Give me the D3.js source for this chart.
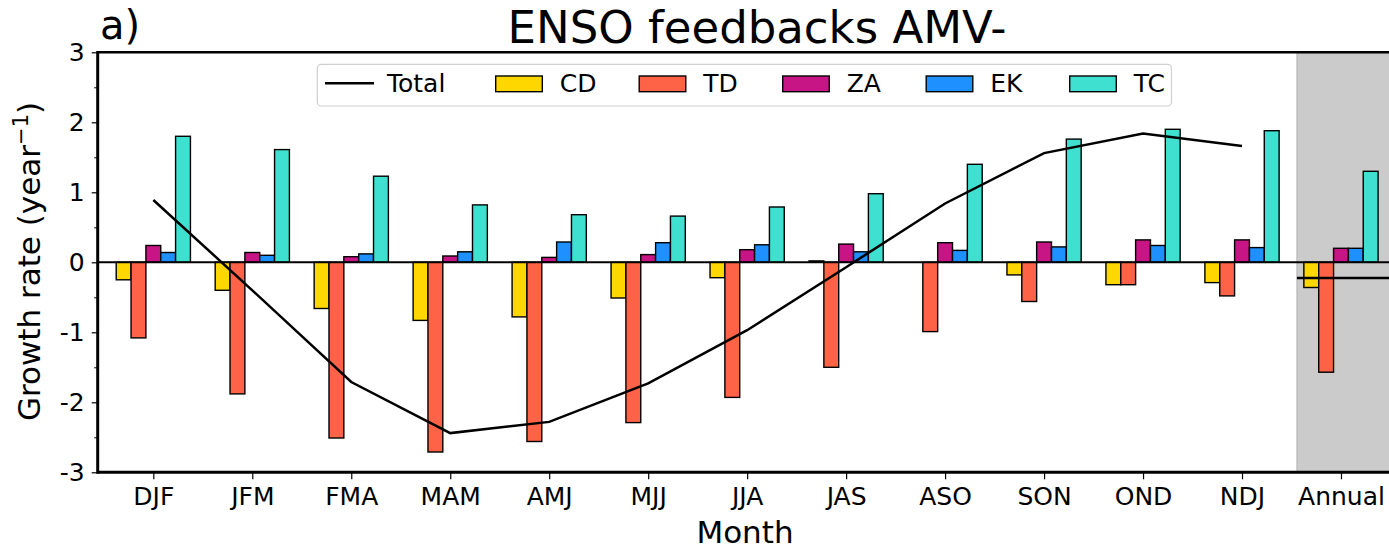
<!DOCTYPE html>
<html>
<head>
	<meta charset="utf-8">
	<style>
		body { margin: 0; background: #fff; }
		text { font-family: "DejaVu Sans", sans-serif; fill: #000; }
	</style>
</head>
<body>
	<script src="https://d3js.org/d3.v7.min.js"></script>

	<script>
		// data
		const months = ['DJF', 'JFM', 'FMA', 'MAM', 'AMJ', 'MJJ', 'JJA', 'JAS', 'ASO', 'SON', 'OND', 'NDJ', 'Annual'];

		const total = [0.89, -0.40, -1.71, -2.44, -2.28, -1.73, -0.97, -0.07, 0.84, 1.56, 1.84, 1.66];
		const totalAnnual = -0.225;

		const CD = [-0.25, -0.40, -0.66, -0.83, -0.78, -0.51, -0.22, 0.02, 0.00, -0.18, -0.32, -0.29, -0.36];
		const TD = [-1.08, -1.88, -2.51, -2.71, -2.56, -2.29, -1.93, -1.50, -0.99, -0.56, -0.32, -0.48, -1.57];
		const ZA = [0.24, 0.14, 0.08, 0.09, 0.07, 0.11, 0.18, 0.26, 0.28, 0.29, 0.32, 0.32, 0.20];
		const EK = [0.14, 0.10, 0.12, 0.15, 0.29, 0.28, 0.25, 0.15, 0.17, 0.22, 0.24, 0.21, 0.20];
		const TC = [1.80, 1.61, 1.23, 0.82, 0.68, 0.66, 0.79, 0.98, 1.40, 1.76, 1.90, 1.88, 1.30];

		const yTicks = [-3, -2, -1, 0, 1, 2, 3];
		const yMinorTicks = [-2.5, -1.5, -0.5, 0.5, 1.5, 2.5];

		const series = [
			{ name: 'CD', values: CD, color: '#FFD700' },
			{ name: 'TD', values: TD, color: '#FF6347' },
			{ name: 'ZA', values: ZA, color: '#C71585' },
			{ name: 'EK', values: EK, color: '#1E90FF' },
			{ name: 'TC', values: TC, color: '#40E0D0' },
		];

		const W = 1389, H = 552;
		const barW = 0.15;
		const annualStart = 11.555;

		const svg = d3.select('body')
			.append('svg')
			.attr('width', W)
			.attr('height', H);

		const x = d3.scaleLinear()
			.domain([-0.562, 12.562])
			.range([97.7, 1396.6]);

		const y = d3.scaleLinear()
			.domain([-3, 3])
			.range([472.3, 52.3]);

		svg.append('clipPath').attr('id', 'plot')
			.append('rect')
			.attr('x', x.range()[0]).attr('y', y(3))
			.attr('width', x.range()[1] - x.range()[0])
			.attr('height', y(-3) - y(3));

		const plot = svg.append('g').attr('clip-path', 'url(#plot)');

		// shaded annual column
		plot.append('rect')
			.attr('x', x(annualStart))
			.attr('y', y(3))
			.attr('width', x.range()[1] - x(annualStart))
			.attr('height', y(-3) - y(3))
			.attr('fill', '#cbcbcb')
			.attr('stroke', '#b0b0b0')
			.attr('stroke-width', 1);

		// bars
		series.forEach((s, k) => {
			const off = (k - 2) * barW;
			plot.append('g')
				.selectAll('rect')
				.data(s.values)
				.join('rect')
				.attr('x', (d, i) => x(i + off - barW / 2))
				.attr('width', x(barW) - x(0))
				.attr('y', d => y(Math.max(0, d)))
				.attr('height', d => Math.abs(y(d) - y(0)))
				.attr('fill', s.color)
				.attr('stroke', '#000')
				.attr('stroke-width', 1.4);
		});

		// zero line
		plot.append('line')
			.attr('x1', x.range()[0]).attr('x2', x.range()[1])
			.attr('y1', y(0)).attr('y2', y(0))
			.attr('stroke', '#000')
			.attr('stroke-width', 2);

		// total
		const line = d3.line()
			.x((d, i) => x(i))
			.y(d => y(d));

		plot.append('path')
			.attr('d', line(total))
			.attr('fill', 'none')
			.attr('stroke', '#000')
			.attr('stroke-width', 2.5);

		plot.append('line')
			.attr('x1', x(annualStart)).attr('x2', x.range()[1])
			.attr('y1', y(totalAnnual)).attr('y2', y(totalAnnual))
			.attr('stroke', '#000')
			.attr('stroke-width', 2.5);

		// axes
		const xAxis = d3.axisBottom(x)
			.tickValues(d3.range(months.length))
			.tickFormat(i => months[i])
			.tickSize(7)
			.tickPadding(8);

		const gx = svg.append('g')
			.attr('transform', `translate(0, ${y(-3)})`)
			.call(xAxis);
		gx.select('.domain').remove();
		gx.selectAll('line').attr('stroke-width', 1.2);
		gx.selectAll('text').style('font-size', '25px');

		const yAxis = d3.axisLeft(y)
			.tickValues(yTicks)
			.tickFormat(d => String(d))
			.tickSize(6)
			.tickPadding(7);

		const gy = svg.append('g')
			.attr('transform', `translate(${x.range()[0]}, 0)`)
			.call(yAxis);
		gy.select('.domain').remove();
		gy.selectAll('line').attr('stroke-width', 1.2);
		gy.selectAll('text').style('font-size', '25px');

		const gyMinor = svg.append('g')
			.attr('transform', `translate(${x.range()[0]}, 0)`)
			.call(d3.axisLeft(y).tickValues(yMinorTicks).tickFormat('').tickSize(3.5));
		gyMinor.select('.domain').remove();
		gyMinor.selectAll('line').attr('stroke-width', 1);

		// spines
		const [x0, x1] = x.range();
		svg.append('line').attr('x1', x0).attr('x2', x1).attr('y1', y(3)).attr('y2', y(3))
			.attr('stroke', '#000').attr('stroke-width', 2.5);
		svg.append('line').attr('x1', x0).attr('x2', x1).attr('y1', y(-3)).attr('y2', y(-3))
			.attr('stroke', '#000').attr('stroke-width', 3);
		svg.append('line').attr('x1', x0).attr('x2', x0).attr('y1', y(3) - 1.2).attr('y2', y(-3) + 1.5)
			.attr('stroke', '#000').attr('stroke-width', 3);
		svg.append('line').attr('x1', x1).attr('x2', x1).attr('y1', y(3)).attr('y2', y(-3))
			.attr('stroke', '#000').attr('stroke-width', 2.5);

		// legend
		const legend = svg.append('g');
		legend.append('rect')
			.attr('x', 317.3).attr('y', 64.3)
			.attr('width', 854.2).attr('height', 41.7)
			.attr('rx', 4)
			.attr('fill', '#fff').attr('fill-opacity', 0.8)
			.attr('stroke', '#d0d0d0').attr('stroke-width', 1.2);

		legend.append('line')
			.attr('x1', 325).attr('x2', 374).attr('y1', 83.3).attr('y2', 83.3)
			.attr('stroke', '#000').attr('stroke-width', 2.5);
		legend.append('text')
			.attr('x', 387).attr('y', 92)
			.style('font-size', '25px')
			.text('Total');

		series.forEach((s, k) => {
			const lx = 495.7 + k * 143.5;
			legend.append('rect')
				.attr('x', lx).attr('y', 76)
				.attr('width', 46.6).attr('height', 15.7)
				.attr('fill', s.color)
				.attr('stroke', '#000').attr('stroke-width', 1.4);
			legend.append('text')
				.attr('x', lx + 64).attr('y', 92)
				.style('font-size', '25px')
				.text(s.name);
		});

		// labels
		svg.append('text')
			.attr('x', 757).attr('y', 42.5)
			.attr('text-anchor', 'middle')
			.style('font-size', '45px')
			.text('ENSO feedbacks AMV-');

		svg.append('text')
			.attr('x', 100).attr('y', 39)
			.style('font-size', '40px')
			.text('a)');

		svg.append('text')
			.attr('x', 745).attr('y', 543)
			.attr('text-anchor', 'middle')
			.style('font-size', '31px')
			.text('Month');

		const ylab = svg.append('text')
			.attr('transform', 'translate(40, 261.5) rotate(-90)')
			.attr('text-anchor', 'middle')
			.style('font-size', '31px');
		ylab.append('tspan').text('Growth rate (year');
		ylab.append('tspan').attr('dy', -12).style('font-size', '21px').text('\u22121');
		ylab.append('tspan').attr('dy', 12).text(')');
	</script>
</body>
</html>
